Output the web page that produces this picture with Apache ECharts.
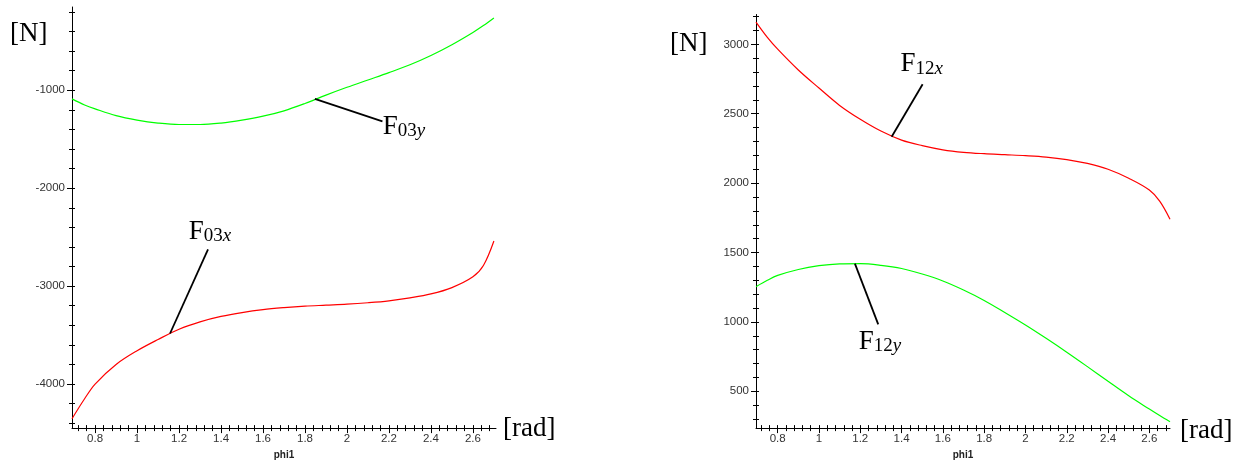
<!DOCTYPE html>
<html><head><meta charset="utf-8">
<script src="https://cdn.jsdelivr.net/npm/echarts@6/dist/echarts.min.js"></script>
<style>html,body{margin:0;padding:0;background:#fff}#c{width:1248px;height:465px}</style>
</head><body><div id="c"></div>
<script>
// ---- data ----
const phiL = [0.69,0.75,0.8,0.9,1.0,1.1,1.2,1.3,1.4,1.5,1.6,1.7,1.8,1.9,2.0,2.1,2.2,2.3,2.4,2.5,2.6,2.65,2.7];
const f03y = [-1088,-1150,-1190,-1260,-1305,-1335,-1350,-1350,-1335,-1305,-1265,-1210,-1135,-1050,-970,-895,-820,-740,-645,-535,-410,-340,-262];
const f03x = [-4354,-4150,-4000,-3800,-3660,-3545,-3440,-3365,-3310,-3270,-3240,-3220,-3205,-3195,-3185,-3170,-3150,-3120,-3080,-3015,-2905,-2790,-2540];
const phiR = [0.695,0.75,0.8,0.9,1.0,1.1,1.2,1.3,1.4,1.5,1.6,1.7,1.8,1.9,2.0,2.1,2.2,2.3,2.4,2.5,2.6,2.65,2.7];
const f12x = [3160,3050,2965,2815,2685,2560,2460,2375,2310,2270,2240,2222,2212,2205,2198,2188,2170,2142,2100,2035,1950,1870,1740];
const f12y = [1254,1300,1335,1378,1405,1418,1420,1408,1385,1345,1295,1230,1155,1068,978,882,782,678,572,468,372,325,280];

const xMajor = [0.8,1,1.2,1.4,1.6,1.8,2,2.2,2.4,2.6];
const yMajorL = [-4000,-3000,-2000,-1000];
const yMajorR = [500,1000,1500,2000,2500,3000];

// annotation anchors: [curve point, leader end, label centre]
const annF03y = {from:[1.847,-1088], to:[2.169,-1317], at:[2.271,-1371], sub:'03', var:'y'};
const annF03x = {from:[1.338,-2625], to:[1.157,-3484], at:[1.347,-2443], sub:'03', var:'x'};
const annF12x = {from:[1.502,2713], to:[1.352,2334], at:[1.498,2856], sub:'12', var:'x'};
const annF12y = {from:[1.174,1420], to:[1.287,982], at:[1.295,856], sub:'12', var:'y'};

// ---- helpers ----
function steps(min, max, step) {
  const out = [];
  for (let k = Math.ceil(min / step - 1e-9); k * step <= max + 1e-9; k++) out.push(Math.round(k * step * 1e6) / 1e6);
  return out;
}
const LBL = {color:'#333', fontFamily:'Liberation Sans, Arial, sans-serif', fontSize:11.5, formatter:function (v) { return String(v); }};
function axisSet(dim, grid, min, max, major, all, extra) {
  const base = {type:'value', gridIndex:grid, min:min, max:max, scale:true,
    splitLine:{show:false}, position: dim === 'x' ? 'bottom' : 'left'};
  const tickStyle = {color:'#000', width:1};
  return [
    Object.assign({}, base, {
      axisLine:{show:true, onZero:false, lineStyle:{color:'#000', width:1}},
      axisTick:{show:true, customValues:all, length:3, lineStyle:tickStyle},
      axisLabel:Object.assign({show:true, customValues:major, margin: dim === 'x' ? 5 : 7}, LBL)
    }, extra || {}),
    Object.assign({}, base, {
      axisLine:{show:false, onZero:false},
      axisTick:{show:true, inside:true, customValues:all, length:3, lineStyle:tickStyle},
      axisLabel:{show:false}
    }),
    Object.assign({}, base, {
      axisLine:{show:false, onZero:false},
      axisTick:{show:true, customValues:major, length:5, lineStyle:tickStyle},
      axisLabel:{show:false}
    })
  ];
}
const SERIF = 'Liberation Serif, Times New Roman, serif';
const rich = {
  f:{fontFamily:SERIF, fontSize:27, color:'#000', lineHeight:30},
  s:{fontFamily:SERIF, fontSize:19, color:'#000', lineHeight:30, padding:[9,0,0,0]},
  i:{fontFamily:SERIF, fontSize:19, color:'#000', fontStyle:'italic', lineHeight:30, padding:[9,0,0,0]}
};
function annotate(a) {
  return {
    markLine:{silent:true, symbol:['none','none'], animation:false,
      lineStyle:{color:'#000', width:1.8, type:'solid'}, label:{show:false},
      data:[[{coord:a.from}, {coord:a.to}]]},
    markPoint:{silent:true, animation:false,
      data:[{coord:a.at, symbol:'circle', symbolSize:1, itemStyle:{color:'rgba(0,0,0,0)'},
        label:{show:true, position:'inside', formatter:'{f|F}{s|' + a.sub + '}{i|' + a.var + '}', rich:rich}}]}
  };
}
function pairs(xs, ys) { return xs.map((x, i) => [x, ys[i]]); }

const xMinL = 0.69, xMaxL = 2.71, yMinL = -4450, yMaxL = -150;
const xMinR = 0.695, xMaxR = 2.7, yMinR = 235, yMaxR = 3215;

const xName = {name:'phi1', nameLocation:'middle', nameGap:18,
  nameTextStyle:{color:'#222', fontFamily:'Liberation Sans, Arial, sans-serif', fontSize:10, fontWeight:'bold'}};

const xAxes = [].concat(
  axisSet('x', 0, xMinL, xMaxL, xMajor, steps(xMinL, xMaxL, 0.04), xName),
  axisSet('x', 1, xMinR, xMaxR, xMajor, steps(xMinR, xMaxR, 0.04), xName));
const yAxes = [].concat(
  axisSet('y', 0, yMinL, yMaxL, yMajorL, steps(yMinL, yMaxL, 200)),
  axisSet('y', 1, yMinR, yMaxR, yMajorR, steps(yMinR, yMaxR, 100)));

function line(xi, yi, data, color, ann) {
  return Object.assign({type:'line', xAxisIndex:xi, yAxisIndex:yi, data:data, showSymbol:false,
    smooth:0.35, silent:true, lineStyle:{color:color, width:1.2}, itemStyle:{color:color}}, annotate(ann));
}

const chart = echarts.init(document.getElementById('c'), null, {renderer:'canvas'});
chart.setOption({
  animation:false,
  backgroundColor:'#fff',
  grid:[{left:72, top:7, width:424, height:425.3}, {left:756, top:14.5, width:414, height:418.7}],
  xAxis:xAxes,
  yAxis:yAxes,
  series:[
    line(0, 0, pairs(phiL, f03y), '#00ff00', annF03y),
    line(0, 0, pairs(phiL, f03x), '#ff0000', annF03x),
    line(3, 3, pairs(phiR, f12x), '#ff0000', annF12x),
    line(3, 3, pairs(phiR, f12y), '#00ff00', annF12y)
  ],
  graphic:[
    {type:'text', left:10, top:20, style:{text:'[N]', font:'27px ' + SERIF, fill:'#000'}},
    {type:'text', left:503, top:415, style:{text:'[rad]', font:'27px ' + SERIF, fill:'#000'}},
    {type:'text', left:670, top:30, style:{text:'[N]', font:'27px ' + SERIF, fill:'#000'}},
    {type:'text', left:1180, top:417, style:{text:'[rad]', font:'27px ' + SERIF, fill:'#000'}}
  ]
});
</script></body></html>
